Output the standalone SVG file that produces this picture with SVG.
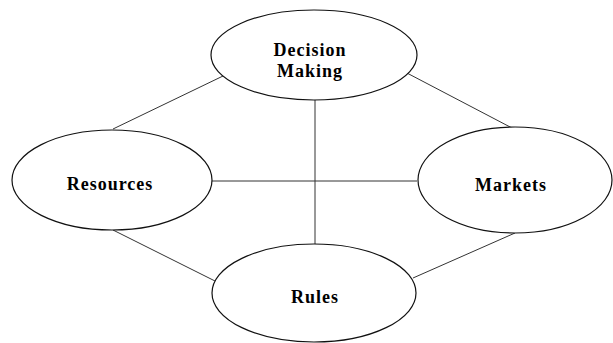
<svg xmlns="http://www.w3.org/2000/svg" width="613" height="343" viewBox="0 0 613 343">
<style>
.n{fill:#fff;stroke:#111;stroke-width:1.2}
.c{stroke:#333;stroke-width:1;fill:none}
.t{font-family:"Liberation Serif","Times New Roman",serif;font-weight:bold;font-size:18px;letter-spacing:1px;fill:#000;text-anchor:middle}
</style>
<rect width="613" height="343" fill="#fff"/>
<g id="connectors">
<line class="c" x1="223" y1="76" x2="113" y2="129"/>
<line class="c" x1="405" y1="72" x2="512" y2="128"/>
<line class="c" x1="315" y1="100" x2="315" y2="244"/>
<line class="c" x1="212" y1="181" x2="417" y2="181"/>
<line class="c" x1="113" y1="230" x2="217" y2="282"/>
<line class="c" x1="515" y1="233" x2="413" y2="278"/>
</g>
<g id="decision">
<ellipse class="n" cx="314" cy="55" rx="103" ry="45"/>
<text class="t" x="310" y="56">Decision</text>
<text class="t" x="310" y="77">Making</text>
</g>
<g id="resources">
<ellipse class="n" cx="112" cy="180" rx="100" ry="50"/>
<text class="t" x="110" y="190">Resources</text>
</g>
<g id="markets">
<ellipse class="n" cx="515" cy="180" rx="97" ry="53"/>
<text class="t" x="511" y="191">Markets</text>
</g>
<g id="rules">
<ellipse class="n" cx="314" cy="293" rx="102" ry="49"/>
<text class="t" x="315" y="303">Rules</text>
</g>
</svg>
